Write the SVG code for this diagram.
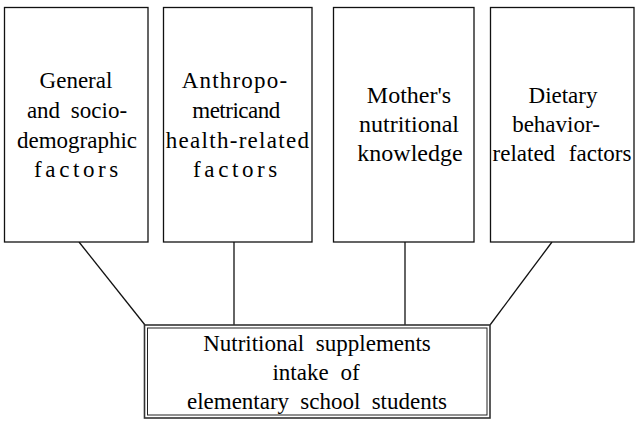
<svg xmlns="http://www.w3.org/2000/svg" width="635" height="421" viewBox="0 0 635 421">
<style>
.box{fill:#fff;stroke:#111;stroke-width:1.3}
.outer{fill:#fff;stroke:#333;stroke-width:1.6}
.inner{fill:none;stroke:#222;stroke-width:1}
.c{stroke:#111;stroke-width:1.3;fill:none}
</style>
<rect width="635" height="421" fill="#fff"/>
<g id="connectors">
<line class="c" x1="79" y1="242" x2="145" y2="325"/>
<line class="c" x1="234" y1="242" x2="234" y2="325"/>
<line class="c" x1="405" y1="242" x2="405" y2="325"/>
<line class="c" x1="552" y1="242" x2="490" y2="325"/>
</g>
<g font-family="Liberation Serif, serif" font-size="23" fill="#000" text-anchor="middle">
<g id="node-general">
<rect class="box" x="4.5" y="7.5" width="143.5" height="234.5"/>
<text x="76" y="88">General</text>
<text x="77" y="118" word-spacing="5">and socio-</text>
<text x="77" y="148">demographic</text>
<text x="78" y="177" letter-spacing="3.6">factors</text>
</g>
<g id="node-anthropometric">
<rect class="box" x="163.5" y="7.5" width="148.5" height="234.5"/>
<text x="235" y="88" letter-spacing="1.2">Anthropo-</text>
<text x="236" y="118" letter-spacing="-0.5">metricand</text>
<text x="238" y="148" letter-spacing="1.3">health-related</text>
<text x="237" y="177" letter-spacing="3.6">factors</text>
</g>
<g id="node-mother" font-size="24">
<rect class="box" x="333.5" y="7.5" width="140.5" height="234.5"/>
<text x="409" y="103">Mother's</text>
<text x="409" y="132">nutritional</text>
<text x="410" y="161">knowledge</text>
</g>
<g id="node-dietary">
<rect class="box" x="490.5" y="7.5" width="143.5" height="234.5"/>
<text x="563" y="103">Dietary</text>
<text x="556" y="132">behavior-</text>
<text x="562" y="161" word-spacing="8">related factors</text>
</g>
<g id="node-outcome">
<rect class="outer" x="144.5" y="325" width="345.5" height="93"/>
<rect class="inner" x="147.5" y="328" width="339.5" height="87"/>
<text x="317" y="351" word-spacing="6">Nutritional supplements</text>
<text x="316" y="380" word-spacing="6">intake of</text>
<text x="317" y="409" word-spacing="5.5">elementary school students</text>
</g>
</g>
</svg>
